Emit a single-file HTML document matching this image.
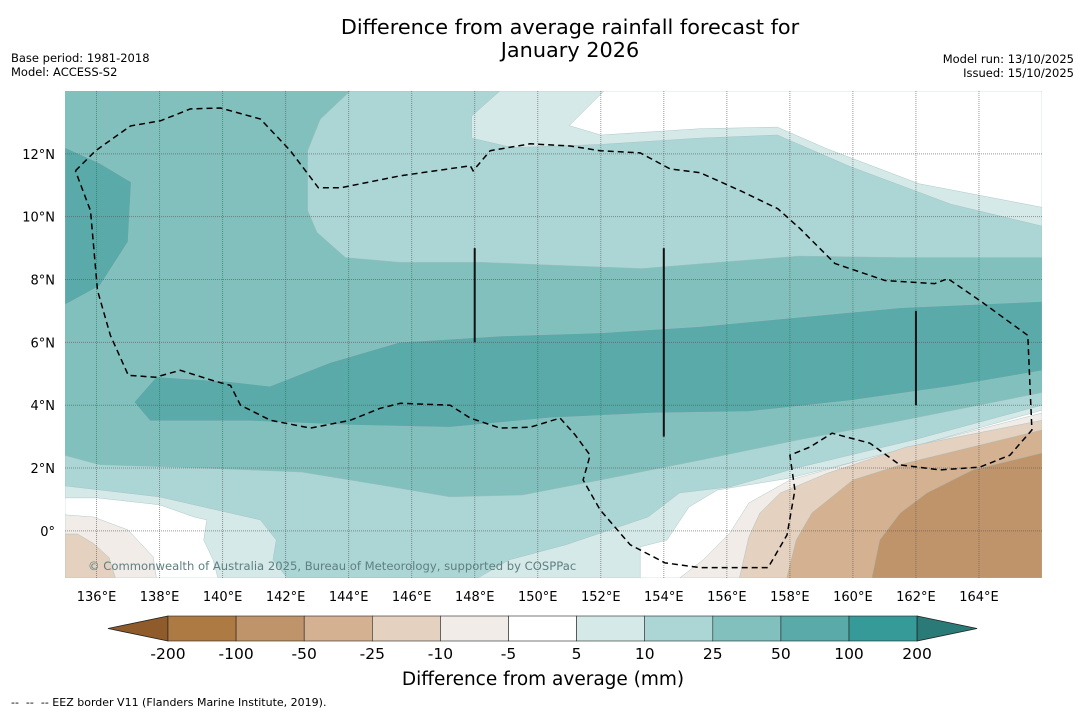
<!DOCTYPE html>
<html><head><meta charset="utf-8"><style>
body{margin:0;background:#fff;font-family:"Liberation Sans","DejaVu Sans",sans-serif;}
svg text{font-family:"DejaVu Sans","Liberation Sans",sans-serif;}
</style></head><body>
<svg id="chart" width="1085" height="713" viewBox="0 0 1085 713" xmlns="http://www.w3.org/2000/svg">
<rect width="1085" height="713" fill="#fff"/>
<text x="570" y="34" font-size="20.8" text-anchor="middle" fill="#000">Difference from average rainfall forecast for</text>
<text x="570" y="57" font-size="20.8" text-anchor="middle" fill="#000">January 2026</text>
<text x="11" y="62" font-size="11.5">Base period: 1981-2018</text>
<text x="11" y="76" font-size="11.5">Model: ACCESS-S2</text>
<text x="1074" y="63" font-size="11.5" text-anchor="end">Model run: 13/10/2025</text>
<text x="1074" y="77" font-size="11.5" text-anchor="end">Issued: 15/10/2025</text>
<defs><clipPath id="mapclip"><rect x="65" y="91" width="977" height="487"/></clipPath></defs>
<g id="map" clip-path="url(#mapclip)"></g>
<g id="axes"></g>
<g id="cbar"></g>
<text x="543" y="685" font-size="18.5" text-anchor="middle">Difference from average (mm)</text>
<text x="11" y="706" font-size="11" xml:space="preserve">--  --  -- EEZ border V11 (Flanders Marine Institute, 2019).</text>
</svg>
<script>
// ---- data ----
const lonTicks=[136,138,140,142,144,146,148,150,152,154,156,158,160,162,164];
const latTicks=[0,2,4,6,8,10,12];
const cbarLabels=["-200","-100","-50","-25","-10","-5","5","10","25","50","100","200"];
const cbarColors=["#ae7a44","#c0946a","#d3b191","#e4d1bf","#f1ece8","#ffffff","#d5e9e8","#acd6d5","#82c0be","#5aaaaa","#369b98"];
const cbarLowColor="#8f5b2a", cbarHighColor="#2a7a78";
// contour regions: [bin color, polygon in lon/lat]
const regionColors=["#82c0be","#acd6d5","#d5e9e8","#ffffff","#5aaaaa","#5aaaaa","#acd6d5","#d5e9e8","#ffffff","#ffffff","#f1ece8","#e4d1bf","#d3b191","#c0946a","#f1ece8","#e4d1bf"];
const regionPolys=[
[[135,14],[166,14],[166,-1.5],[135,-1.5]],
[[144.05,14],[143.1,13.1],[142.7,12.1],[142.7,10.2],[143.0,9.5],[143.9,8.7],[145.6,8.55],[148.2,8.55],[150.7,8.45],[153.3,8.35],[155.15,8.5],[158.3,8.75],[161.5,8.7],[166,8.7],[166,14]],
[[148.8,14],[147.9,13.2],[147.9,12.5],[149.2,12.2],[152,12.3],[155.15,12.5],[157.6,12.6],[159.9,11.6],[163.1,10.4],[166,9.7],[166,14]],
[[152.1,14],[151.0,12.9],[152,12.6],[155.15,12.8],[157.6,12.85],[159.2,12.15],[162.1,11.05],[166,10.3],[166,14]],
[[135,12.2],[136.1,11.7],[137.1,11.1],[137.0,9.2],[136.1,7.8],[135,7.2]],
[[137.7,3.5],[137.2,4.1],[137.9,4.9],[140.2,4.75],[141.5,4.6],[143.4,5.35],[145.6,6.0],[148.8,6.2],[152,6.3],[155.15,6.5],[158.3,6.8],[161.5,7.1],[166,7.3],[166,5.1],[163.1,4.6],[159.9,4.15],[156.7,3.8],[153.6,3.75],[150.4,3.6],[147.2,3.3],[144.05,3.37],[140.9,3.5]],
[[135,2.4],[136.1,2.1],[139.3,2.0],[142.5,1.87],[145.0,1.46],[147.2,1.08],[149.5,1.14],[152,1.62],[155.15,2.25],[158.3,2.9],[161.5,3.5],[166,4.4],[166,-1.5],[135,-1.5]],
[[135,1.43],[138.0,1.08],[141.2,0.35],[141.7,-0.29],[141.6,-0.92],[142.05,-1.5],[148.1,-1.5],[149.1,-0.92],[150.9,-0.44],[153.5,0.44],[154.5,1.21],[156.1,1.4],[158.2,2.0],[161.9,2.89],[166,4.0],[166,-1.5],[135,-1.5]],
[[135,1.05],[136.03,1.05],[138.0,0.83],[139.1,0.44],[139.5,0.35],[139.4,-0.29],[139.7,-0.92],[139.85,-1.5],[135,-1.5]],
[[153.25,-0.51],[154.1,-0.29],[154.8,0.76],[155.7,1.3],[158.0,1.68],[161.5,2.57],[166,3.84],[166,-1.5],[153.25,-1.5]],
[[154.5,-1.5],[155.25,-0.92],[156.1,-0.06],[156.7,0.89],[158.0,1.62],[160.6,2.35],[166,3.75],[166,-1.5]],
[[156.4,-1.5],[156.7,-0.19],[157.05,0.57],[157.7,1.21],[159.2,1.84],[161.7,2.67],[166,3.52],[166,-1.5]],
[[157.9,-1.5],[158.2,-0.29],[158.7,0.57],[160.0,1.62],[161.7,2.16],[166,3.21],[166,-1.5]],
[[160.6,-1.5],[160.85,-0.29],[161.5,0.57],[162.35,1.21],[163.8,1.94],[166,2.48],[166,-1.5]],
[[135,0.51],[135.9,0.44],[137.0,0.03],[137.8,-0.83],[137.9,-1.5],[135,-1.5]],
[[135,-0.1],[135.4,-0.1],[135.9,-0.4],[136.4,-0.85],[136.6,-1.5],[135,-1.5]]
];
const eezLine=[[135.33,11.46],[135.97,12.1],[137.08,12.89],[138.03,13.05],[138.98,13.43],[139.93,13.46],[141.2,13.11],[142.15,12.1],[143.04,10.92],[143.74,10.92],[145.64,11.3],[147.86,11.62],[147.95,11.46],[148.49,12.1],[149.76,12.32],[151.03,12.25],[151.98,12.1],[153.25,12.03],[154.2,11.52],[155.15,11.4],[156.42,10.83],[157.62,10.25],[158.32,9.62],[159.43,8.51],[161.02,7.97],[162.6,7.87],[163.01,8.03],[164.03,7.33],[165.55,6.22],[165.68,3.21],[164.98,2.41],[164.03,2.03],[162.76,1.94],[161.49,2.1],[160.54,2.79],[159.34,3.11],[158.64,2.67],[158.0,2.41],[158.16,1.3],[157.91,-0.13],[157.31,-1.17],[155.15,-1.17],[154.04,-1.02],[152.93,-0.44],[151.98,0.67],[151.44,1.62],[151.66,2.41],[151.19,3.05],[150.71,3.59],[149.76,3.3],[148.81,3.27],[147.86,3.59],[147.22,4.0],[145.64,4.06],[145.0,3.9],[144.05,3.52],[142.79,3.27],[141.52,3.52],[140.57,4.0],[140.25,4.63],[139.77,4.76],[138.66,5.11],[137.87,4.89],[137.01,4.95],[136.44,6.22],[136.03,7.65],[135.81,10.19],[135.33,11.46]];
const segLon=[148,154,162], segLat0=[6,3,4], segLat1=[9,9,7];
// ---- axes ----
const X0=65,X1=1042,Y0=91,Y1=578,LON0=135,LON1=166,LAT0=-1.5,LAT1=14;
const xs=l=>X0+(l-LON0)/(LON1-LON0)*(X1-X0);
const ys=l=>Y1-(l-LAT0)/(LAT1-LAT0)*(Y1-Y0);
const NS="http://www.w3.org/2000/svg";
function mk(tag,attrs,parent){const e=document.createElementNS(NS,tag);for(const k in attrs)e.setAttribute(k,attrs[k]);parent.appendChild(e);return e;}
const pts=p=>p.map(q=>xs(q[0]).toFixed(1)+","+ys(q[1]).toFixed(1)).join(" ");
const map=document.getElementById("map");
regionPolys.forEach((p,i)=>{
  const e=mk("polygon",{points:pts(p),fill:regionColors[i],stroke:i?"#9fbdbd":"none","stroke-width":i?0.4:0},map);
  
  
});
lonTicks.forEach(l=>{
  const e=mk("line",{x1:xs(l),x2:xs(l),y1:Y0,y2:Y1,stroke:"#555","stroke-width":1,"stroke-dasharray":"1,1","stroke-opacity":0.6},map);
  
  
});
latTicks.forEach(l=>{
  const e=mk("line",{x1:X0,x2:X1,y1:ys(l),y2:ys(l),stroke:"#555","stroke-width":1,"stroke-dasharray":"1,1","stroke-opacity":0.6},map);
  
  
});
segLon.forEach((l,i)=>{
  const e=mk("line",{x1:xs(l),x2:xs(l),y1:ys(segLat0[i]),y2:ys(segLat1[i]),stroke:"#111","stroke-width":2},map);
  
  
});
const eez=mk("polyline",{points:pts(eezLine),fill:"none",stroke:"#000","stroke-width":1.5,"stroke-dasharray":"6,4"},map);


const cr=mk("text",{x:88,y:570,"font-size":11.6,fill:"#5f7f80"},map);
cr.textContent="© Commonwealth of Australia 2025, Bureau of Meteorology, supported by COSPPac";


const axes=document.getElementById("axes");
lonTicks.forEach(l=>{
  const t=mk("text",{x:xs(l),y:601,"font-size":13,"text-anchor":"middle"},axes);
  t.textContent=l+"°E";
  
  
});
latTicks.forEach(l=>{
  const t=mk("text",{x:55,y:ys(l)+5,"font-size":13,"text-anchor":"end"},axes);
  t.textContent=l===0?"0°":l+"°N";
  
  
});
// ---- colorbar ----
const cb=document.getElementById("cbar");
const CB0=168,CBW=68.1,CBT=616,CBB=641;
mk("polygon",{points:`108,${(CBT+CBB)/2} ${CB0},${CBT} ${CB0},${CBB}`,fill:cbarLowColor,stroke:"#222","stroke-width":0.8},cb);
cbarColors.forEach((c,i)=>{
  const r=mk("rect",{x:CB0+i*CBW,y:CBT,width:CBW,height:CBB-CBT,fill:c,stroke:"#222","stroke-width":0.6},cb);
  
  
});
const endX=CB0+cbarColors.length*CBW;
mk("polygon",{points:`${endX},${CBT} ${endX+60},${(CBT+CBB)/2} ${endX},${CBB}`,fill:cbarHighColor,stroke:"#222","stroke-width":0.8},cb);
cbarLabels.forEach((s,i)=>{
  const t=mk("text",{x:CB0+i*CBW,y:659,"font-size":15.5,"text-anchor":"middle"},cb);
  t.textContent=s;
  
  
});
</script>
</body></html>
